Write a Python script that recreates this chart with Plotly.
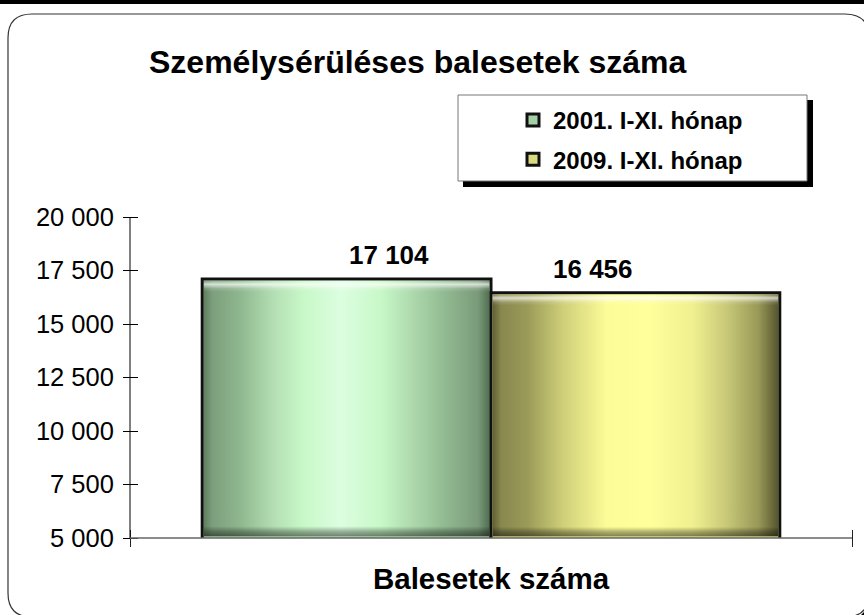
import plotly.graph_objects as go
from urllib.parse import quote

# ---- data ----
categories = ["Balesetek száma"]
series_names = ["2001. I-XI. hónap", "2009. I-XI. hónap"]
values_2001 = [17104]
values_2009 = [16456]
y_tickvals = [5000, 7500, 10000, 12500, 15000, 17500, 20000]
chart_title = "Személysérüléses balesetek száma"

# ---- layout geometry ----
W, H = 864, 615
L, R, T, B = 130, 12, 217, 77
PW, PH = W - L - R, H - T - B
YMIN, YMAX = 5000, 20000
FONT = "Liberation Sans, Arial, sans-serif"
BARGAP = 0.2
YTICK_IN, XTICK_IN = 8, 9   # inner half of the crossing tick marks (px)


def pp(X, Y):
    return (X - L) / PW, (H - B - Y) / PH


def grad_svg(stops):
    s = "".join(f"<stop offset='{o}' stop-color='{c}'/>" for o, c in stops)
    v = ("<stop offset='0' stop-color='#ffffff' stop-opacity='0.1'/>"
         "<stop offset='0.015' stop-color='#ffffff' stop-opacity='0.7'/>"
         "<stop offset='0.032' stop-color='#ffffff' stop-opacity='0.15'/>"
         "<stop offset='0.045' stop-color='#ffffff' stop-opacity='0'/>"
         "<stop offset='0.96' stop-color='#000000' stop-opacity='0'/>"
         "<stop offset='0.98' stop-color='#000000' stop-opacity='0.3'/>"
         "<stop offset='1' stop-color='#000000' stop-opacity='0.5'/>")
    svg = ("<svg xmlns='http://www.w3.org/2000/svg' width='100' height='100' "
           "viewBox='0 0 100 100' preserveAspectRatio='none'><defs>"
           f"<linearGradient id='g' x1='0' y1='0' x2='1' y2='0'>{s}</linearGradient>"
           f"<linearGradient id='v' x1='0' y1='0' x2='0' y2='1'>{v}</linearGradient>"
           "</defs><rect width='100' height='100' fill='url(#g)'/>"
           "<rect width='100' height='100' fill='url(#v)'/></svg>")
    return "data:image/svg+xml;charset=utf-8," + quote(svg)


green_stops = [(0, '#5f7f5f'), (0.03, '#7c9e7c'), (0.12, '#8db58d'), (0.25, '#b5e0b5'),
               (0.35, '#c8f8c8'), (0.48, '#dcfee0'), (0.62, '#c8f8c8'), (0.72, '#b0dcb0'),
               (0.85, '#90b890'), (0.96, '#7a9a7a'), (1, '#506e50')]
yellow_stops = [(0, '#5f5f35'), (0.03, '#88884f'), (0.12, '#9a9a58'), (0.25, '#d0d07a'),
                (0.4, '#fcfc98'), (0.55, '#ffff9c'), (0.7, '#f0f090'), (0.82, '#c8c878'),
                (0.93, '#999958'), (1, '#55552f')]

fig = go.Figure()
series = [(series_names[0], values_2001, '#a6cfa6', green_stops),
          (series_names[1], values_2009, '#d9d982', yellow_stops)]
for i, (name, vals, col, stops) in enumerate(series):
    fig.add_trace(go.Bar(x=categories, y=vals, name=name, legendgroup=name,
                         marker=dict(color=col, line=dict(color='#111111', width=3))))

# gradient overlays + labels
bw = (1 - BARGAP) / 2
ex = 1.5 / PW
ey = 1.5 * (YMAX - YMIN) / PH
images = []
annotations = []
for i, (name, vals, col, stops) in enumerate(series):
    left = 0.5 - bw + i * bw
    v = vals[0]
    images.append(dict(source=grad_svg(stops), xref="paper", yref="y",
                       x=left + ex, y=v - ey, sizex=bw - 2 * ex, sizey=v - YMIN - 2 * ey,
                       xanchor="left", yanchor="top", sizing="stretch", layer="above"))
    annotations.append(dict(xref="paper", yref="y", x=left + bw / 2, y=v,
                            text=f"{v:,}".replace(",", " "), showarrow=False,
                            yanchor="bottom", yshift=7,
                            font=dict(family=FONT, size=26, color="black", weight="bold")))

# title
tx, ty = pp(417, 62)
annotations.append(dict(xref="paper", yref="paper", x=tx, y=ty, text=chart_title,
                        showarrow=False, xanchor="center", yanchor="middle",
                        font=dict(family=FONT, size=32, color="black", weight="bold")))


def rounded(x0, y0, x1, y1, r):
    a = pp(x0 + r, y0); b = pp(x1 - r, y0); c = pp(x1, y0); d = pp(x1, y0 + r)
    e = pp(x1, y1 - r); f = pp(x1, y1); g = pp(x1 - r, y1); h = pp(x0 + r, y1)
    k = pp(x0, y1); m = pp(x0, y1 - r); n = pp(x0, y0 + r); o = pp(x0, y0)
    P = lambda p: f"{p[0]:.5f},{p[1]:.5f}"
    return (f"M{P(a)} L{P(b)} Q{P(c)} {P(d)} L{P(e)} Q{P(f)} {P(g)} L{P(h)} "
            f"Q{P(k)} {P(m)} L{P(n)} Q{P(o)} {P(a)} Z")


shapes = []
x0, y0 = pp(856, 606); x1, y1 = pp(870, 620)
shapes.append(dict(type="path", xref="paper", yref="paper",
                   path=f"M{x1:.5f},{y0:.5f} L{x1:.5f},{y1:.5f} L{x0:.5f},{y1:.5f} Z",
                   fillcolor="#000000", line=dict(width=0), layer="below"))
shapes.append(dict(type="path", xref="paper", yref="paper", path=rounded(8, 14, 869, 617, 24),
                   fillcolor="rgba(0,0,0,0)", line=dict(color="#333333", width=1.2), layer="below"))
x0, y0 = pp(-5, -5); x1, y1 = pp(W + 5, 4)
shapes.append(dict(type="rect", xref="paper", yref="paper", x0=x0, y0=y0, x1=x1, y1=y1,
                   fillcolor="black", line=dict(width=0), layer="below"))
x0, y0 = pp(463, 100); x1, y1 = pp(813, 187)
shapes.append(dict(type="rect", xref="paper", yref="paper", x0=x0, y0=y0, x1=x1, y1=y1,
                   fillcolor="black", line=dict(width=0), layer="below"))
x0, y0 = pp(458, 95); x1, y1 = pp(807, 181)
shapes.append(dict(type="rect", xref="paper", yref="paper", x0=x0, y0=y0, x1=x1, y1=y1,
                   fillcolor="white", line=dict(color="#777777", width=1), layer="below"))
# axis lines (ticks are drawn by the axes themselves, offset so they cross the lines)
shapes.append(dict(type="line", xref="paper", yref="paper", x0=0, x1=0, y0=0, y1=1,
                   line=dict(color="black", width=1), layer="above"))
shapes.append(dict(type="line", xref="paper", yref="paper", x0=0, x1=1, y0=0, y1=0,
                   line=dict(color="#666666", width=1.5), layer="above"))

lx, ly = pp(513, 98)

fig.update_layout(
    width=W, height=H,
    margin=dict(l=L, r=R, t=T, b=B, pad=0),
    paper_bgcolor="white", plot_bgcolor="rgba(0,0,0,0)",
    separators=", ",
    barmode="group", bargap=BARGAP, bargroupgap=0,
    showlegend=True,
    legend=dict(x=lx, y=ly, xanchor="left", yanchor="top", bgcolor="rgba(0,0,0,0)",
                borderwidth=0, traceorder="grouped", tracegroupgap=5,
                font=dict(family=FONT, size=24, color="black", weight="bold")),
    font=dict(family=FONT, color="black"),
    xaxis=dict(type="category", range=[-0.5, 0.5], tickson="boundaries",
               anchor="free", position=XTICK_IN / PH,
               ticks="outside", ticklen=8 + XTICK_IN, tickcolor="#222222", tickwidth=1,
               showline=False, showgrid=False,
               tickfont=dict(family=FONT, size=29.5, color="black", weight="bold"),
               ticklabelstandoff=29, fixedrange=True),
    yaxis=dict(range=[YMIN, YMAX], tickvals=y_tickvals, tickformat=",d",
               anchor="free", position=YTICK_IN / PW,
               ticks="outside", ticklen=7 + YTICK_IN, tickcolor="black", tickwidth=1,
               showline=False, showgrid=False, zeroline=False,
               tickfont=dict(family=FONT, size=25.5, color="black"),
               ticklabelstandoff=12 - YTICK_IN, fixedrange=True),
    images=images, annotations=annotations, shapes=shapes,
)

fig.write_html("out.html", config={"displayModeBar": False},
               post_script="document.body.style.margin='0';document.body.style.padding='0';"
                           "document.body.style.overflow='hidden';")
